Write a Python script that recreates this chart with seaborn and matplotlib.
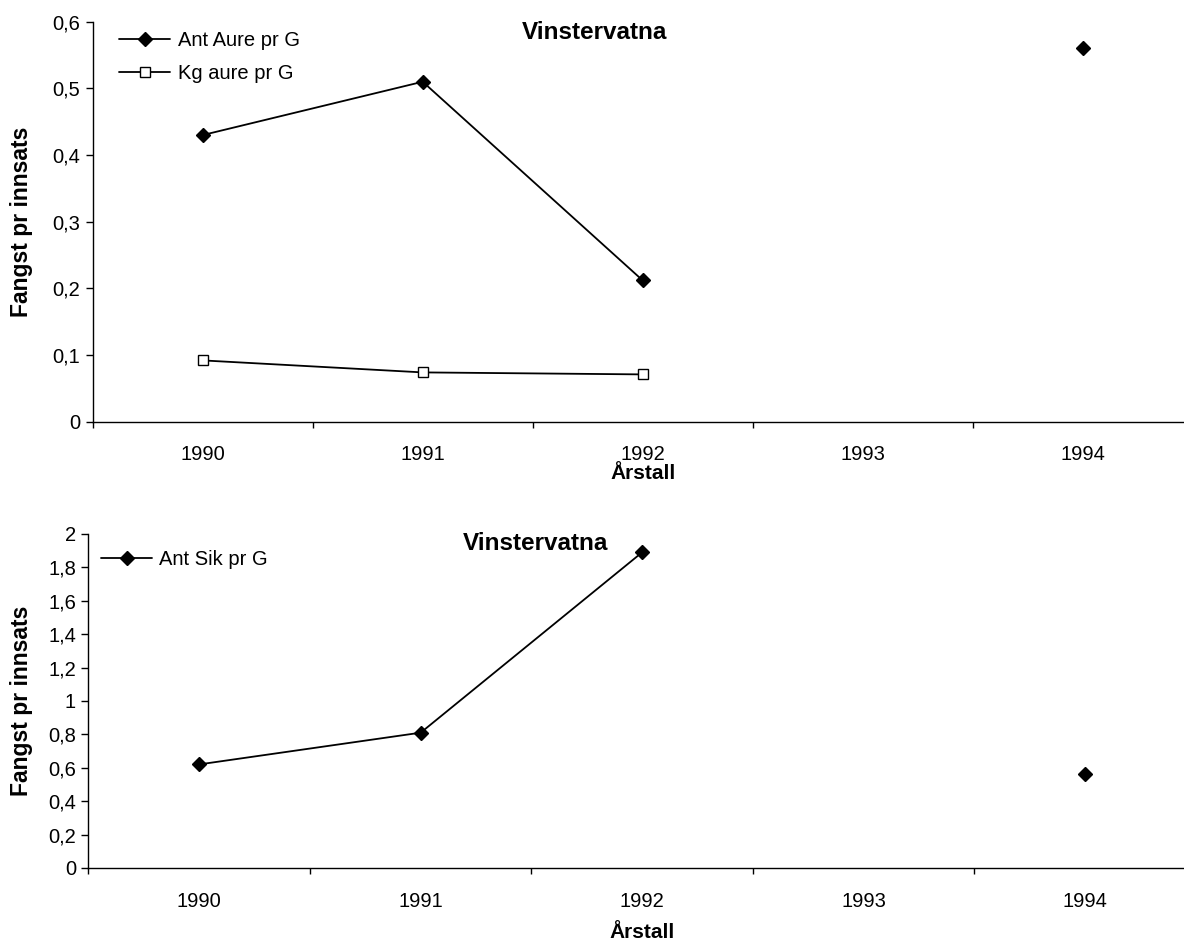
import numpy as np
import pandas as pd
import seaborn as sns
import matplotlib.pyplot as plt
from matplotlib.lines import Line2D
from matplotlib.ticker import FixedLocator

sns.set_style("white")
plt.rcParams["font.family"] = ["Liberation Sans", "DejaVu Sans"]
for key in ["text.color", "axes.labelcolor", "xtick.color", "ytick.color"]:
    plt.rcParams[key] = "black"

YEARS = [1990, 1991, 1992, 1993, 1994]
ANT_AURE = [0.43, 0.51, 0.212, np.nan, 0.56]
KG_AURE = [0.092, 0.074, 0.071, np.nan, np.nan]
ANT_SIK = [0.62, 0.81, 1.89, np.nan, 0.56]

TOP_YTICKS = [0, 0.1, 0.2, 0.3, 0.4, 0.5, 0.6]
TOP_YLABELS = ["0", "0,1", "0,2", "0,3", "0,4", "0,5", "0,6"]
BOT_YTICKS = [0, 0.2, 0.4, 0.6, 0.8, 1.0, 1.2, 1.4, 1.6, 1.8, 2.0]
BOT_YLABELS = ["0", "0,2", "0,4", "0,6", "0,8", "1", "1,2", "1,4", "1,6", "1,8", "2"]

TITLE = "Vinstervatna"
XLABEL = "Årstall"
YLABEL = "Fangst pr innsats"

FS = 14.5
DIAMOND = dict(marker="D", markersize=6.8, markerfacecolor="black",
               markeredgecolor="black", markeredgewidth=1.0)
SQUARE = dict(marker="s", markersize=6.6, markerfacecolor="white",
              markeredgecolor="black", markeredgewidth=1.0)


def segments(values):
    # Excel leaves gaps at empty cells: split runs at NaN
    df = pd.DataFrame({"year": YEARS, "value": values})
    df["seg"] = df["value"].isna().cumsum()
    return df.dropna()


def draw_series(ax, values, mk):
    sns.lineplot(data=segments(values), x="year", y="value", units="seg",
                 estimator=None, color="black", lw=1.3, legend=False, ax=ax, **mk)


def style_axes(ax, yticks, ylabels):
    ax.set_xlim(1989.5, 1994.5)
    ax.set_ylim(yticks[0], yticks[-1])
    ax.set_xticks(YEARS)
    ax.set_xticklabels([str(y) for y in YEARS])
    ax.xaxis.set_minor_locator(FixedLocator(np.arange(1989.5, 1995, 1.0)))
    ax.tick_params(axis="x", which="major", bottom=True, length=0, pad=17, labelsize=FS)
    ax.tick_params(axis="x", which="minor", bottom=True, length=4, width=1.0,
                   direction="out", color="black")
    ax.set_yticks(yticks)
    ax.set_yticklabels(ylabels)
    ax.tick_params(axis="y", left=True, length=5, width=1.0, direction="out",
                   pad=4, labelsize=FS, color="black")
    for s in ["top", "right"]:
        ax.spines[s].set_visible(False)
    for s in ["left", "bottom"]:
        ax.spines[s].set_color("black")
        ax.spines[s].set_linewidth(1.0)
    ax.set_ylabel(YLABEL, fontsize=16.5, fontweight="bold")


fig = plt.figure(figsize=(11.84, 9.49), dpi=100)
ax1 = fig.add_axes([0.0783, 0.5556, 0.929, 0.4215])
ax2 = fig.add_axes([0.0747, 0.0854, 0.9354, 0.352])

# top panel: aure
draw_series(ax1, ANT_AURE, DIAMOND)
draw_series(ax1, KG_AURE, SQUARE)
style_axes(ax1, TOP_YTICKS, TOP_YLABELS)
ax1.set_xlabel(XLABEL, fontsize=15, fontweight="bold", labelpad=0)
ax1.yaxis.set_label_coords(-0.054, 0.5)
ax1.text(0.456, 0.972, TITLE, transform=ax1.transAxes, ha="center", va="center",
         fontsize=17.5, fontweight="bold")
h1 = [Line2D([], [], color="black", lw=1.3, **DIAMOND),
      Line2D([], [], color="black", lw=1.3, **SQUARE)]
ax1.legend(h1, ["Ant Aure pr G", "Kg aure pr G"], loc="upper left",
           bbox_to_anchor=(0.024, 0.977), frameon=False, fontsize=FS,
           handlelength=2.54, handletextpad=0.4, labelspacing=0.7,
           borderpad=0, borderaxespad=0)

# bottom panel: sik
draw_series(ax2, ANT_SIK, DIAMOND)
style_axes(ax2, BOT_YTICKS, BOT_YLABELS)
ax2.set_xlabel(XLABEL, fontsize=15, fontweight="bold", labelpad=9)
ax2.yaxis.set_label_coords(-0.050, 0.5)
ax2.text(0.404, 0.97, TITLE, transform=ax2.transAxes, ha="center", va="center",
         fontsize=17.5, fontweight="bold")
h2 = [Line2D([], [], color="black", lw=1.3, **DIAMOND)]
ax2.legend(h2, ["Ant Sik pr G"], loc="upper left",
           bbox_to_anchor=(0.0113, 0.952), frameon=False, fontsize=FS,
           handlelength=2.54, handletextpad=0.35, borderpad=0, borderaxespad=0)

fig.savefig("out.png", dpi=100)
